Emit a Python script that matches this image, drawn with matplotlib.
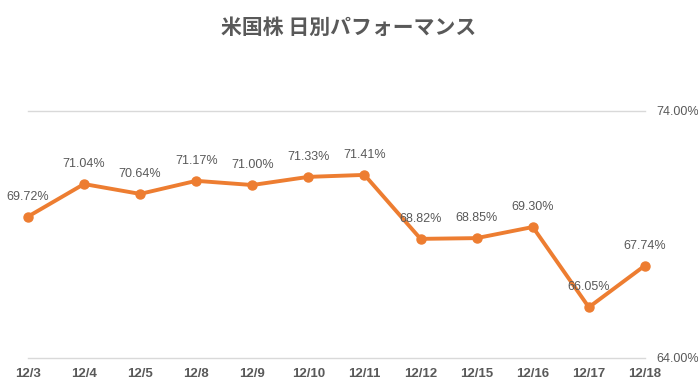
import matplotlib
matplotlib.use("Agg")
import matplotlib.pyplot as plt

# data
dates = ["12/3", "12/4", "12/5", "12/8", "12/9", "12/10", "12/11",
         "12/12", "12/15", "12/16", "12/17", "12/18"]
values = [69.72, 71.04, 70.64, 71.17, 71.00, 71.33, 71.41,
          68.82, 68.85, 69.30, 66.05, 67.74]
y_ticks = [64.0, 74.0]
title = "米国株 日別パフォーマンス"

text_color = "#595959"
line_color = "#ED7D31"
narrow = ["Liberation Sans Narrow", "Liberation Sans", "DejaVu Sans"]

fig = plt.figure(figsize=(6.98, 3.92), dpi=100)
ax = fig.add_axes([0.040, 0.087, 0.884, 0.630])

x = list(range(len(dates)))
ax.plot(x, values, color=line_color, lw=2.8, marker="o", ms=6.5,
        solid_joinstyle="round", zorder=3, clip_on=False)

for xi, v in zip(x, values):
    ax.annotate(f"{v:.2f}%", (xi, v), xytext=(0, 10), textcoords="offset points",
                ha="center", va="bottom", fontsize=9, color=text_color,
                family=narrow, zorder=4)

ax.set_xlim(0, len(dates) - 1)
ax.set_ylim(y_ticks[0], y_ticks[-1])

ax.set_yticks(y_ticks)
ax.set_yticklabels([f"{t:.2f}%" for t in y_ticks], family=narrow, fontsize=9, color=text_color)
ax.yaxis.tick_right()
ax.tick_params(axis="y", length=0, pad=8)
ax.grid(axis="y", color="#d9d9d9", lw=1, zorder=0)
for gl in ax.get_ygridlines():
    gl.set_clip_on(False)

ax.set_xticks(x)
ax.set_xticklabels(dates, family=narrow, fontsize=9.5, fontweight="bold", color=text_color)
ax.tick_params(axis="x", length=0, pad=7)

for s in ax.spines.values():
    s.set_visible(False)

fig.text(0.5, 0.93, title, ha="center", va="center", fontsize=15, fontweight="bold",
         color=text_color, family=["Noto Sans CJK JP", "DejaVu Sans"])

fig.savefig("out.png", dpi=100)
plt.close()
